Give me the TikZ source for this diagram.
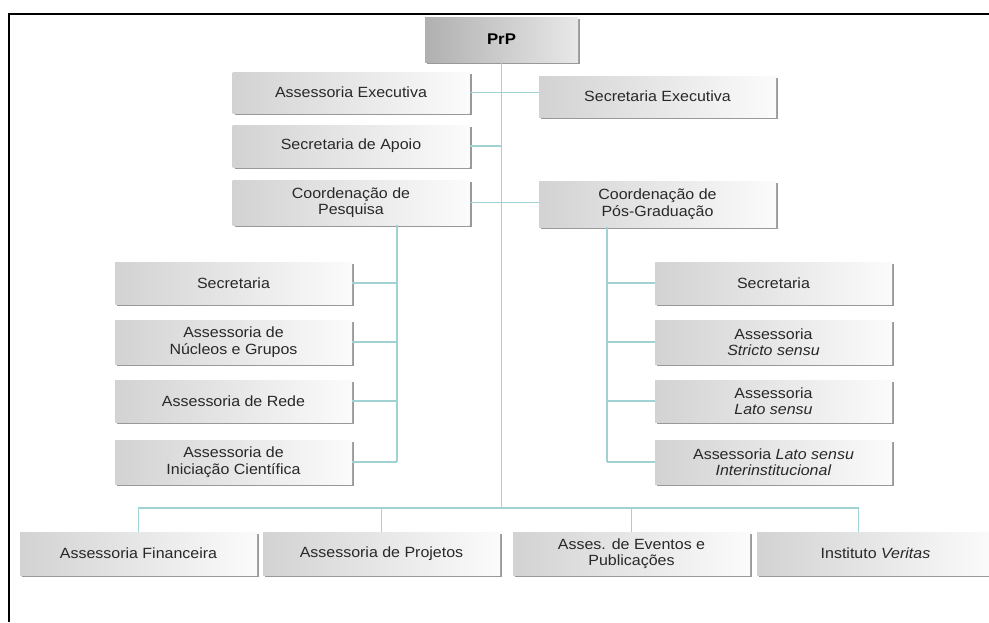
\documentclass[tikz,border=0pt]{standalone}
\usepackage{fontspec}
\setmainfont{Liberation Sans}[FakeStretch=1.08]
\usetikzlibrary{shadows}

\definecolor{linkc}{RGB}{160,210,212}
\definecolor{txtc}{RGB}{40,40,40}

\tikzset{
  unit/.style={minimum width=237pt, minimum height=42pt, align=center,
    left color=gray!35, right color=gray!3, text=txtc,
    font=\fontsize{14.8}{16.5}\selectfont,
    drop shadow={shadow xshift=2pt, shadow yshift=-2pt, fill=gray!80, opacity=1}},
  head/.style={unit, minimum width=153pt, minimum height=45pt,
    left color=gray!62, right color=gray!18, text=black,
    font=\fontsize{15.5}{17}\selectfont\bfseries},
  link/.style={draw=linkc, line width=1.4pt}
}

\begin{document}
\begin{tikzpicture}[x=1pt,y=-1pt]
\useasboundingbox (0,0) rectangle (989,622);

% Frame
\draw[line width=1.5pt] (9,622) -- (9,14) -- (989,14);

% Top
\node[head] (prp) at (501.5,39.5) {PrP};
\node[unit, minimum height=41pt] (asexec) at (351,92.5) {Assessoria Executiva};
\node[unit, minimum height=41pt] (secexec) at (657.5,96.5) {Secretaria Executiva};
\node[unit] (secapoio) at (351,146) {Secretaria de Apoio};
\node[unit, minimum height=45pt] (cpesq) at (351,202.5) {Coordenação de\\Pesquisa};
\node[unit, minimum height=46pt] (cpos) at (657.5,204) {Coordenação de\\Pós-Graduação};

% Pesquisa
\node[unit] (lsec) at (233.5,283) {Secretaria};
\node[unit, minimum height=44pt] (lnuc) at (233.5,342) {Assessoria de\\Núcleos e Grupos};
\node[unit] (lrede) at (233.5,401) {Assessoria de Rede};
\node[unit, minimum height=44pt] (lic) at (233.5,462) {Assessoria de\\Iniciação Científica};

% Pos-Graduacao
\node[unit] (rsec) at (773.5,283) {Secretaria};
\node[unit, minimum height=44pt] (rstr) at (773.5,342) {Assessoria\\\textit{Stricto sensu}};
\node[unit] (rlato) at (773.5,401) {Assessoria\\\textit{Lato sensu}};
\node[unit, minimum height=44pt] (rinter) at (773.5,462) {Assessoria \textit{Lato sensu}\\\textit{Interinstitucional}};

% Bottom row
\node[unit, minimum height=43pt] (fin) at (138.5,553.5) {Assessoria Financeira};
\node[unit, minimum height=43pt] (proj) at (381.5,553.5) {Assessoria de Projetos};
\node[unit, minimum height=43pt] (event) at (631.5,553.5) {Asses. de Eventos e\\Publicações};
\node[unit, minimum height=43pt] (vert) at (875.5,553.5) {Instituto \textit{Veritas}};

% Spines
\coordinate (bus) at (501.5,508);
\coordinate (lx) at (397,0);
\coordinate (rx) at (607,0);

% Trunk
\draw[link] (prp.south) -- (prp.south |- bus);
\draw[link] (asexec.east) -- (asexec.east -| secexec.west);
\draw[link] (secapoio.east) -- (secapoio.east -| prp.south);
\draw[link] (cpesq.east) -- (cpesq.east -| cpos.west);

% Left branch
\draw[link] (cpesq.south -| lx) -- (lic.east -| lx);
\foreach \n in {lsec,lnuc,lrede,lic}
  \draw[link] (\n.east) -- (\n.east -| lx);

% Right branch
\draw[link] (cpos.south -| rx) -- (rinter.west -| rx);
\foreach \n in {rsec,rstr,rlato,rinter}
  \draw[link] (\n.west) -- (\n.west -| rx);

% Bottom bus
\draw[link] (fin.north) -- (fin.north |- bus) -- ([xshift=-17pt]vert.north |- bus) -- ([xshift=-17pt]vert.north);
\draw[link] (proj.north) -- (proj.north |- bus);
\draw[link] (event.north) -- (event.north |- bus);

\end{tikzpicture}
\end{document}
